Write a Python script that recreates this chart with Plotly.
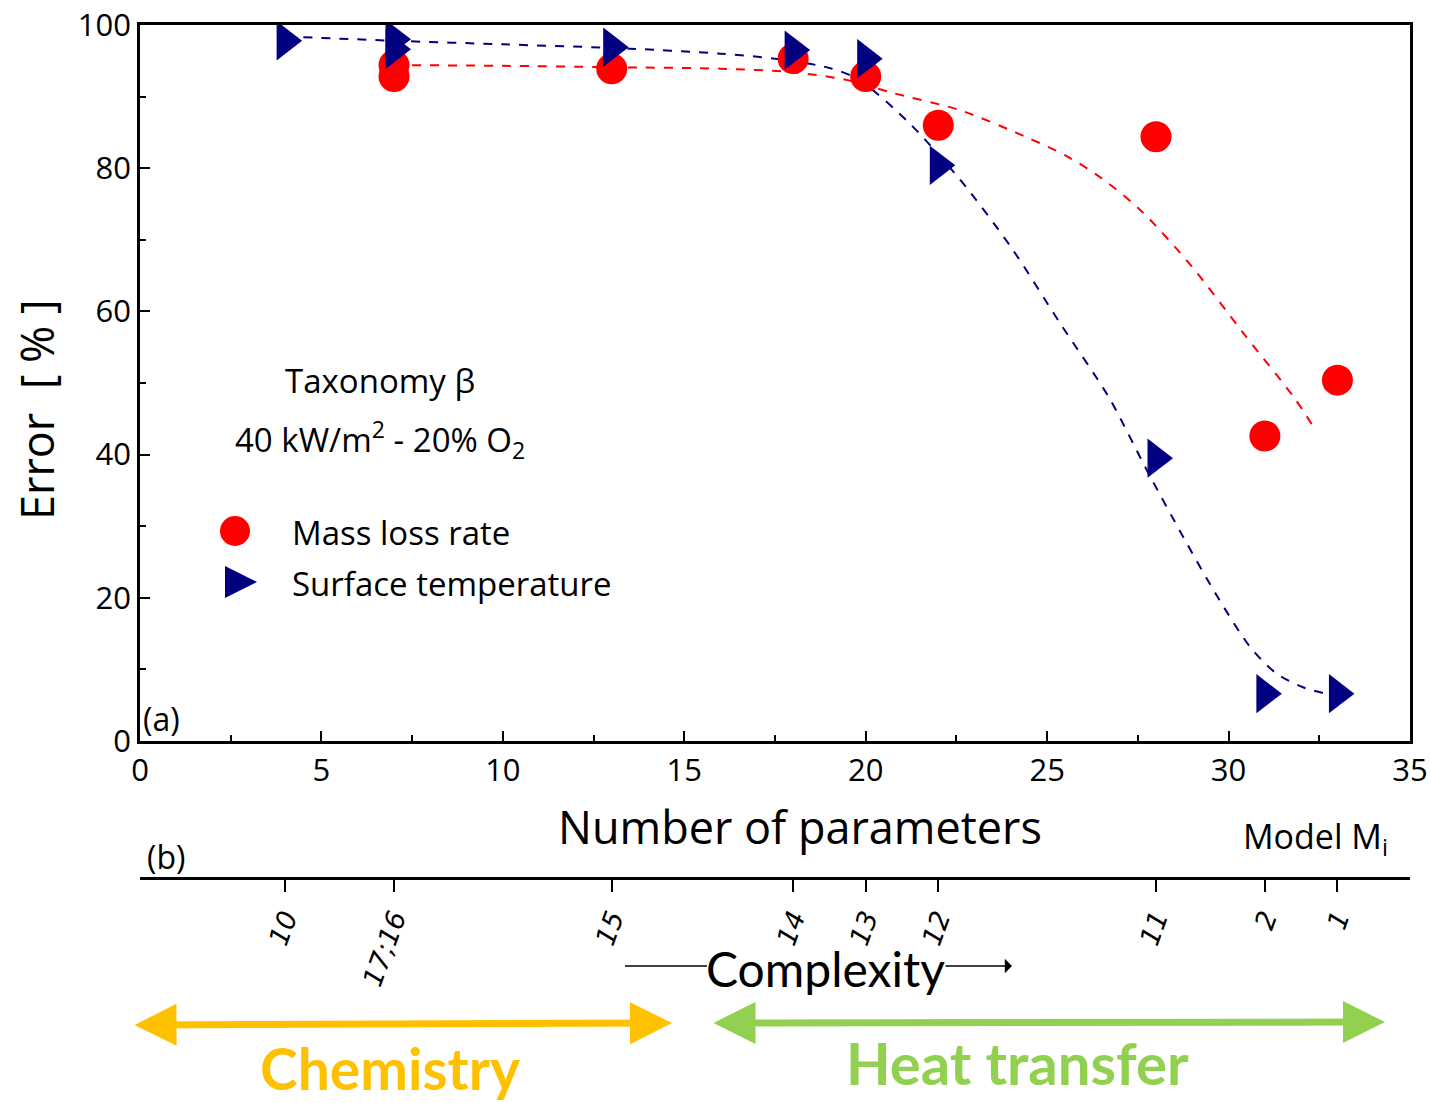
import plotly.graph_objects as go

# ---------------- data ----------------
mlr_x = [7, 7, 13, 18, 20, 22, 28, 31, 33]
mlr_y = [94.4, 92.8, 93.9, 95.3, 92.8, 86.0, 84.4, 42.6, 50.4]

st_x = [4, 7, 7, 13, 18, 20, 22, 28, 31, 33]
st_y = [97.8, 98.0, 96.6, 96.9, 96.5, 95.3, 80.4, 39.5, 6.6, 6.6]

mlr_fit_x = [7, 10, 13, 16, 18, 19.5, 20.75, 22.6, 24.4, 25.5, 26.5, 27.6, 29.0, 30.4, 31.8, 32.4]
mlr_fit_y = [94.4, 94.3, 94.1, 93.9, 93.4, 92.3, 90.5, 88.1, 84.4, 81.8, 78.6, 74.0, 66.2, 57.0, 48.0, 43.4]

st_fit_x = [4.5, 7, 10, 13.5, 16, 17.5, 19, 19.8, 21.2, 22.6, 24.0, 25.35, 26.7, 27.75,
            28.75, 29.7, 30.6, 31.3, 32.05, 32.6]
st_fit_y = [98.3, 97.8, 97.3, 96.7, 96.0, 95.3, 94.0, 92.4, 86.3, 78.4, 69.0, 58.4, 48.0, 37.8,
            28.5, 20.1, 13.1, 9.5, 7.5, 6.7]

model_pos = [4, 7, 13, 18, 20, 22, 28, 31, 33]
model_labels = ["10", "17;16", "15", "14", "13", "12", "11", "2", "1"]

x_range = [0, 35]
y_range = [0, 100]

# ---------------- layout helpers (pixel -> paper) ----------------
W, H = 1430, 1103
ML, MR, MT, MB = 140, 20, 25, 3
PW, PH = W - ML - MR, H - MT - MB


def px(x):
    return (x - ML) / PW


def py(y):
    return (H - MB - y) / PH


RED = "#FF0000"
NAVY = "#000080"
FONT = "Open Sans"

fig = go.Figure()

fig.add_trace(go.Scatter(x=mlr_fit_x, y=mlr_fit_y, mode="lines",
                         line=dict(color=RED, width=2, dash="dash", shape="spline", smoothing=0.8),
                         showlegend=False, hoverinfo="skip"))
fig.add_trace(go.Scatter(x=st_fit_x, y=st_fit_y, mode="lines",
                         line=dict(color=NAVY, width=2, dash="dash", shape="spline", smoothing=0.8),
                         showlegend=False, hoverinfo="skip"))
fig.add_trace(go.Scatter(x=mlr_x, y=mlr_y, mode="markers", name="Mass loss rate",
                         marker=dict(symbol="circle", size=31, color=RED),
                         showlegend=False))
fig.add_trace(go.Scatter(x=st_x, y=st_y, mode="markers", name="Surface temperature",
                         marker=dict(symbol="triangle-right", size=34, color=NAVY),
                         showlegend=False))
# carrier trace for the model axis
fig.add_trace(go.Scatter(x=model_pos, y=[None] * len(model_pos), xaxis="x2", yaxis="y",
                         mode="markers", showlegend=False, hoverinfo="skip"))

y_dom0 = py(741)
axis_common = dict(showgrid=False, zeroline=False, showline=True, linecolor="black",
                   linewidth=2.5, mirror=True, ticks="inside", tickcolor="black",
                   tickwidth=2, ticklen=10,
                   tickfont=dict(family=FONT, size=31, color="black"))

fig.update_layout(
    width=W, height=H,
    margin=dict(l=ML, r=MR, t=MT, b=MB, autoexpand=False),
    paper_bgcolor="white", plot_bgcolor="white",
    xaxis=dict(range=x_range, dtick=5, domain=[0, 1], anchor="y", automargin=False,
               minor=dict(dtick=2.5, ticks="inside", ticklen=6, tickwidth=2, tickcolor="black"),
               **axis_common),
    yaxis=dict(range=y_range, dtick=20, domain=[y_dom0, 1], anchor="x", automargin=False,
               minor=dict(dtick=10, ticks="inside", ticklen=6, tickwidth=2, tickcolor="black"),
               **axis_common),
    xaxis2=dict(range=x_range, overlaying="x", anchor="free", position=py(878), side="bottom",
                automargin=False,
                tickmode="array", tickvals=model_pos, ticktext=model_labels,
                showgrid=False, zeroline=False, showline=True, linecolor="black", linewidth=2.5,
                ticks="outside", ticklen=12, tickwidth=2, tickcolor="black", tickangle=-70,
                tickfont=dict(family="DejaVu Sans", size=27, color="black", style="italic")),
    showlegend=False,
)

ann = []


def text(x, y, s, size=30, family=FONT, color="black", xanchor="center", bold=False, angle=0):
    ann.append(dict(x=px(x), y=py(y), xref="paper", yref="paper", text=s, showarrow=False,
                    xanchor=xanchor, yanchor="middle", textangle=angle,
                    font=dict(family=family, size=size, color=color,
                              weight="bold" if bold else "normal")))


def arrow(x0, y0, x1, y1, color, width, head, size, both=False):
    # tail at (x0, y0) pixels, head at (x1, y1) pixels
    ann.append(dict(x=px(x1), y=py(y1), xref="paper", yref="paper",
                    ax=x0 - x1, ay=y0 - y1, axref="pixel", ayref="pixel",
                    text="", showarrow=True, arrowhead=head, startarrowhead=head,
                    arrowside="end+start" if both else "end",
                    arrowwidth=width, arrowsize=size, startarrowsize=size, arrowcolor=color))


text(161, 718, "(a)", size=32)
text(380, 380, "Taxonomy β", size=33)
text(380, 440, "40 kW/m<sup>2</sup> - 20% O<sub>2</sub>", size=33)
text(290, 532, "Mass loss rate", size=33, xanchor="left")
text(290, 583, "Surface temperature", size=33, xanchor="left")
text(800, 826, "Number of parameters", size=45)
text(36, 410, "Error  [ % ]", size=45, angle=-90)
text(166, 856, "(b)", size=32)
text(1315, 838, "Model M<sub>i</sub>", size=34)
text(826, 968, "Complexity", size=48, family="Lato")
text(390, 1068, "Chemistry", size=57, family="Lato", color="#FFC000", bold=True)
text(1018, 1062, "Heat transfer", size=58, family="Lato", color="#92D050", bold=True)

arrow(133, 1025, 672, 1023, "#FFC000", 7, 2, 1.2, both=True)
arrow(712, 1023, 1385, 1022, "#92D050", 7, 2, 1.2, both=True)
arrow(944, 966, 1012, 966, "black", 1.5, 1, 1.6)

fig.update_layout(annotations=ann)

shapes = [
    dict(type="line", xref="paper", yref="paper", x0=px(625), x1=px(707), y0=py(966), y1=py(966),
         line=dict(color="black", width=1.5)),
    dict(type="circle", xref="paper", yref="paper", x0=px(220), x1=px(250), y0=py(546), y1=py(516),
         fillcolor=RED, line=dict(width=0)),
    dict(type="path", xref="paper", yref="paper",
         path=f"M {px(225)},{py(566)} L {px(225)},{py(598)} L {px(257)},{py(582)} Z",
         fillcolor=NAVY, line=dict(width=0)),
]
fig.update_layout(shapes=shapes)

fig.write_html("out.html")
